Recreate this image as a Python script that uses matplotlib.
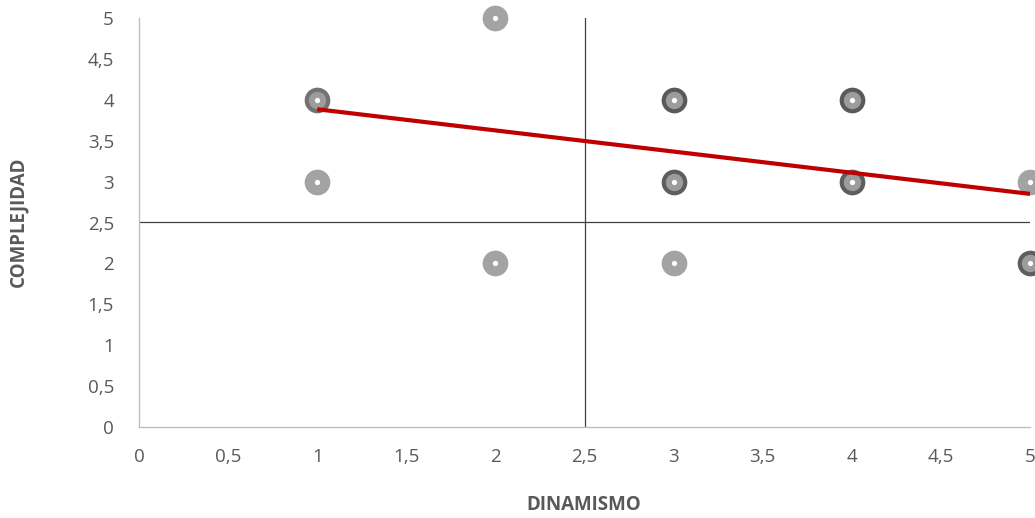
import numpy as np
import matplotlib
matplotlib.use("Agg")
import matplotlib.pyplot as plt

# Data (repeated points are overlapping observations)
dinamismo = [1, 1, 1, 2, 2, 3, 3, 3, 3, 3, 3, 3, 3, 4, 4, 4, 4, 4, 4, 4, 5, 5, 5, 5]
complejidad = [4, 4, 3, 5, 2, 4, 4, 4, 4, 3, 3, 3, 2, 4, 4, 4, 4, 3, 3, 3, 3, 2, 2, 2]
x_ticks = [0, 0.5, 1, 1.5, 2, 2.5, 3, 3.5, 4, 4.5, 5]
y_ticks = [0, 0.5, 1, 1.5, 2, 2.5, 3, 3.5, 4, 4.5, 5]
cross_x = 2.5
cross_y = 2.5

plt.rcParams['font.family'] = ['Open Sans', 'DejaVu Sans']

fig = plt.figure(figsize=(10.35, 5.18), dpi=100)
ax = fig.add_axes([139/1035, 1-427/518, (1030-139)/1035, (427-18)/518])
ax.set_xlim(0, 5)
ax.set_ylim(0, 5)

# crosshair
ax.axvline(cross_x, color='#404040', lw=0.9, zorder=1)
ax.axhline(cross_y, color='#404040', lw=0.9, zorder=1)

# markers
pts = np.array(list(zip(dinamismo, complejidad)))
uniq, counts = np.unique(pts, axis=0, return_counts=True)
ring_colors = {1: '#A3A3A3', 2: '#727272', 3: '#5E5E5E', 4: '#595959'}
for (px, py), c in zip(uniq, counts):
    outer = ring_colors.get(c, '#555555')
    ax.plot(px, py, 'o', ms=18.5, mfc=outer, mec='none', clip_on=False, zorder=3)
    if c > 1:
        ax.plot(px, py, 'o', ms=12.5, mfc='#9C9C9C', mec='none', clip_on=False, zorder=3)
    ax.plot(px, py, 'o', ms=3.8, mfc='white', mec='none', clip_on=False, zorder=3)

# linear trendline
xs = np.array(dinamismo, dtype=float)
ys = np.array(complejidad, dtype=float)
m, b = np.polyfit(xs, ys, 1)
tx = np.array([xs.min(), xs.max()])
ax.plot(tx, m*tx + b, color='#C00000', lw=3, solid_capstyle='butt', clip_on=False, zorder=4)

def fmt(v):
    return str(int(v)) if v == int(v) else str(v).replace('.', ',')

ax.set_xticks(x_ticks)
ax.set_yticks(y_ticks)
ax.set_xticklabels([fmt(v) for v in x_ticks])
ax.set_yticklabels([fmt(v) for v in y_ticks])
ax.tick_params(length=0, labelsize=13.5, colors='#595959')
ax.tick_params(axis='y', pad=18)
ax.tick_params(axis='x', pad=15)

for s in ['top', 'right']:
    ax.spines[s].set_visible(False)
for s in ['left', 'bottom']:
    ax.spines[s].set_color('#BFBFBF')
    ax.spines[s].set_linewidth(1)

fig.text(584/1035, 1-505/518, 'DINAMISMO', ha='center', va='center',
         fontsize=13.5, fontweight='bold', color='#595959')
fig.text(18/1035, 1-222/518, 'COMPLEJIDAD', ha='center', va='center', rotation=90,
         fontsize=13.5, fontweight='bold', color='#595959')

fig.savefig('out.png', dpi=100)
